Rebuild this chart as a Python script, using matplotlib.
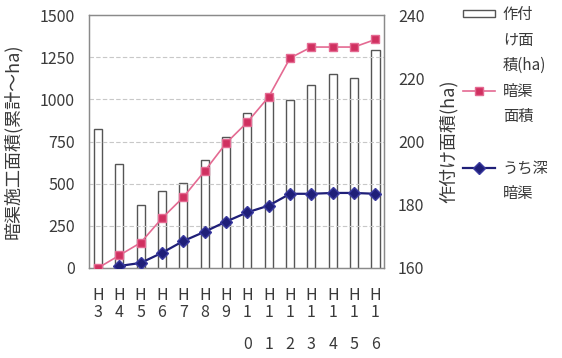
import numpy as np
import matplotlib
matplotlib.use('Agg')
import matplotlib.pyplot as plt
from matplotlib.patches import Rectangle
from matplotlib.lines import Line2D

plt.rcParams['font.family'] = ['Noto Sans CJK JP', 'DejaVu Sans']

# データ
years = ['3', '4', '5', '6', '7', '8', '9', '10', '11', '12', '13', '14', '15', '16']
planted_area = [204, 193, 180, 184.5, 187, 194, 201.5, 209, 214, 213, 218, 221.5, 220, 229]
drain_area = [0, 75, 150, 295, 420, 575, 740, 865, 1015, 1245, 1310, 1310, 1310, 1355]
deep_drain = [np.nan, 12, 30, 90, 160, 215, 275, 330, 370, 440, 440, 445, 445, 440]

text_col = '#3a3a3a'
pink = '#e46a92'
pink_mk = '#d03060'
navy = '#1f1f78'

fig = plt.figure(figsize=(5.62, 3.58), dpi=100)
ax = fig.add_axes([89 / 562, 90 / 358, 295 / 562, 253 / 358])
ax2 = ax.twinx()

x = np.arange(len(years))

# 作付け面積（右軸、棒）
ax2.bar(x, planted_area, width=0.38, color='white', edgecolor='#555555', linewidth=1.0)
ax2.set_ylim(160, 240)
ax2.set_yticks([160, 180, 200, 220, 240])

# 暗渠面積・うち深暗渠（左軸、折れ線）
ax.plot(x, drain_area, color=pink, lw=1.2, marker='s', markersize=5.5,
        markerfacecolor=pink_mk, markeredgecolor=pink, zorder=3)
ax.plot(x, deep_drain, color=navy, lw=1.6, marker='D', markersize=6.5,
        markerfacecolor=navy, markeredgecolor='#3a3aa0', zorder=4)
ax.set_ylim(0, 1500)
ax.set_yticks(range(0, 1501, 250))
ax.set_xlim(-0.42, 13.4)
ax.set_xticks(x)
labels = []
for y in years:
    if len(y) == 1:
        labels.append('H\n' + y)
    else:
        labels.append('H\n' + y[0] + '\n\n' + y[1])
ax.set_xticklabels(labels, linespacing=0.95)

# 線を棒の上に
ax.set_zorder(ax2.get_zorder() + 1)
ax.patch.set_visible(False)

for g in range(250, 1500, 250):
    ax.axhline(g, color='#c8c8c8', lw=0.8, ls=(0, (4, 2)), zorder=0)

for a in (ax, ax2):
    for s in a.spines.values():
        s.set_color('#8a8a8a')
        s.set_linewidth(0.9)
ax.tick_params(axis='y', length=0, pad=10, labelsize=11.5, labelcolor=text_col)
ax.tick_params(axis='x', length=0, pad=14, labelsize=11.5, labelcolor=text_col)
ax2.tick_params(axis='y', length=0, pad=10, labelsize=11.5, labelcolor=text_col)

ax.set_ylabel('暗渠施工面積(累計～ha)', fontsize=13, color=text_col)
ax.yaxis.set_label_coords(-0.227, 0.5)
ax2.set_ylabel('作付け面積(ha)', fontsize=13, color=text_col)
ax2.yaxis.set_label_coords(1.186, 0.5)

# 凡例（折り返しテキスト）
blank = Line2D([], [], color='none')
handles = [
    Rectangle((0, 0), 1, 1, facecolor='white', edgecolor='#555555', lw=1.0),
    blank, blank,
    Line2D([], [], color=pink, lw=1.2, marker='s', markersize=5.5,
           markerfacecolor=pink_mk, markeredgecolor=pink),
    blank, blank,
    Line2D([], [], color=navy, lw=1.6, marker='D', markersize=6.5,
           markerfacecolor=navy, markeredgecolor='#3a3aa0'),
    blank,
]
leg_labels = ['作付', 'け面', '積(ha)', '暗渠', '面積', ' ', 'うち深', '暗渠']
leg = fig.legend(handles, leg_labels, loc='upper left', bbox_to_anchor=(463 / 562, 1 - 6 / 358),
                 frameon=False, fontsize=11, labelspacing=0.56, handlelength=2.1,
                 handleheight=0.35, handletextpad=0.5, borderpad=0, borderaxespad=0)
for t in leg.get_texts():
    t.set_color(text_col)

fig.savefig('out.png', dpi=100)
